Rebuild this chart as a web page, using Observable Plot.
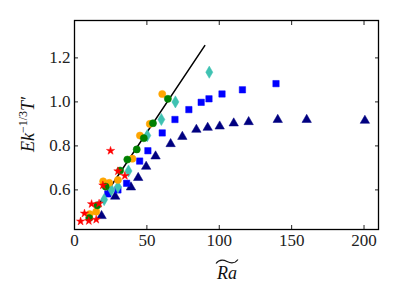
<!DOCTYPE html>
<html><head><meta charset="utf-8">
<script src="https://cdn.jsdelivr.net/npm/d3@7"></script>
<script src="https://cdn.jsdelivr.net/npm/@observablehq/plot@0.6"></script>
<style>body{margin:0;background:#fff} svg{display:block} svg text{font-family:"Liberation Serif","DejaVu Serif",serif !important;}</style>
</head><body><div id="chart"></div>
<script>
// Data
const starRa = [4.2, 6.9, 9.9, 11.8, 15.0, 17.0, 19.6, 24.9, 30.0, 34.8];
const starT  = [0.457, 0.493, 0.459, 0.536, 0.465, 0.538, 0.621, 0.778, 0.685, 0.664];

const orangeRa = [10.5, 15.0, 19.8, 24.0, 30.0, 40.0, 45.2, 52.0, 60.6];
const orangeT  = [0.490, 0.501, 0.639, 0.632, 0.645, 0.742, 0.847, 0.900, 1.036];

const greenRa = [10.2, 15.8, 21.5, 31.5, 36.5, 43.0, 47.9, 54.2, 64.5];
const greenT  = [0.472, 0.530, 0.615, 0.688, 0.738, 0.784, 0.835, 0.903, 1.014];

const cyanRa = [20.5, 25.5, 30.0, 37.3, 50.3, 60.0, 69.7, 93.1];
const cyanT  = [0.556, 0.600, 0.614, 0.686, 0.847, 0.920, 1.000, 1.135];

const squareRa = [23.0, 30.0, 36.0, 45.0, 50.7, 60.6, 69.4, 79.0, 87.5, 92.9, 101.9, 116.0, 139.2];
const squareT  = [0.582, 0.600, 0.630, 0.731, 0.778, 0.859, 0.920, 0.965, 0.998, 1.014, 1.036, 1.055, 1.083];

const triRa = [18.7, 28.1, 39.0, 44.0, 49.5, 56.0, 66.4, 74.5, 84.2, 92.0, 100.3, 110.0, 120.3, 140.4, 160.4, 200.6];
const triT  = [0.482, 0.570, 0.612, 0.655, 0.706, 0.753, 0.809, 0.842, 0.874, 0.883, 0.889, 0.903, 0.909, 0.919, 0.919, 0.915];

const fitRa = [9.5, 90.0];
const fitT  = [0.462, 1.256];

const xTicks = [0, 50, 100, 150, 200];
const yTicks = [0.6, 0.8, 1.0, 1.2];

const rows = (xs, ys) => xs.map((x, i) => ({x, y: ys[i]}));

const series = [
  {ra: triRa, t: triT, symbol: "triangle", fill: "#000080", r: 3.5},
  {ra: squareRa, t: squareT, symbol: "square", fill: "#0000ff", r: 3.6},
  {ra: cyanRa, t: cyanT, symbol: "diamond", fill: "#3fc2b2", r: 3.7},
  {ra: orangeRa, t: orangeT, symbol: "circle", fill: "#ffa500", r: 3.6},
  {ra: greenRa, t: greenT, symbol: "circle", fill: "#008000", r: 3.6},
  {ra: starRa, t: starT, symbol: "star", fill: "#ff0000", r: 2.6}
];

const plot = Plot.plot({
  width: 399,
  height: 299,
  marginLeft: 74,
  marginRight: 21,
  marginTop: 20,
  marginBottom: 70,
  style: {fontSize: "17px", color: "#222", background: "#fff"},
  x: {domain: [0, 210]},
  y: {domain: [0.42, 1.37]},
  marks: [
    Plot.line(rows(fitRa, fitT), {x: "x", y: "y", stroke: "black", strokeWidth: 1.5}),
    ...series.map(s => Plot.dot(rows(s.ra, s.t), {x: "x", y: "y", symbol: s.symbol, fill: s.fill, stroke: s.fill, strokeWidth: 0.5, r: s.r})),
    Plot.axisX(xTicks, {anchor: "bottom", tickSize: -4, tickPadding: 8, label: null, fontSize: 17}),
    Plot.axisX(xTicks, {anchor: "top", tickSize: -4, text: null, label: null}),
    Plot.axisY(yTicks, {anchor: "left", tickSize: -4, tickPadding: 8, tickFormat: d => d.toFixed(1), label: null, fontSize: 17}),
    Plot.axisY(yTicks, {anchor: "right", tickSize: -4, text: null, label: null}),
    Plot.frame({stroke: "black", strokeWidth: 1.3})
  ]
});

const svg = d3.select(plot);
// y label: Ek^{-1/3}T'
const yl = svg.append("text")
  .attr("transform", "translate(34,124.5) rotate(-90)")
  .attr("text-anchor", "middle")
  .style("font-style", "italic")
  .style("font-size", "18px")
  .attr("fill", "#111");
yl.append("tspan").text("Ek");
yl.append("tspan").attr("dy", -7).style("font-size", "12px").style("font-style", "normal").text("−1/3");
yl.append("tspan").attr("dy", 7).text("T′");

// x label: Ra with a wide tilde accent drawn as a stroke above it
svg.append("text")
  .attr("x", 227).attr("y", 279)
  .attr("text-anchor", "middle")
  .style("font-style", "italic")
  .style("font-size", "18px")
  .attr("fill", "#111")
  .text("Ra");
svg.append("path")
  .attr("d", "M216,263.5 C219,259.5 223,259.5 227,261.5 C231,263.5 235,263.5 238,259.5")
  .attr("fill", "none")
  .attr("stroke", "#111")
  .attr("stroke-width", 1.1);

document.getElementById("chart").appendChild(plot);
</script>
</body></html>
